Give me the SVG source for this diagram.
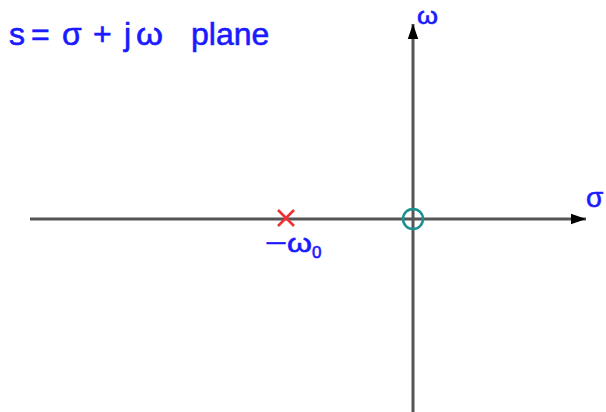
<svg xmlns="http://www.w3.org/2000/svg" width="606" height="412" viewBox="0 0 606 412">
<style>
.ax{stroke:#555;stroke-width:3;fill:none}
.lbl{font-family:"Liberation Sans",Arial,sans-serif;fill:#1a1aff;stroke:#1a1aff;stroke-width:0.6}
</style>
<defs>
<marker id="ah" viewBox="0 0 10 10" refX="10" refY="5" markerWidth="5" markerHeight="5" markerUnits="strokeWidth" orient="auto">
<path d="M0,1.5 L10,5 L0,8.5 Z" fill="#000"/>
</marker>
</defs>
<rect width="606" height="412" fill="#fff"/>
<g id="connectors">
<line class="ax" x1="30" y1="219" x2="586" y2="219" marker-end="url(#ah)"/>
<line class="ax" x1="413" y1="412" x2="413" y2="24" marker-end="url(#ah)"/>
</g>
<g id="title"><text class="lbl" y="45" font-size="32"><tspan x="9">s</tspan><tspan x="31">=</tspan><tspan x="62">σ</tspan><tspan x="93">+</tspan><tspan x="124">j</tspan><tspan x="136" textLength="27" lengthAdjust="spacingAndGlyphs">ω</tspan><tspan x="191">plane</tspan></text></g>
<g id="omega-label"><text class="lbl" x="417" y="24" font-size="24" textLength="21" lengthAdjust="spacingAndGlyphs">ω</text></g>
<g id="sigma-label"><text class="lbl" x="586" y="207" font-size="28">σ</text></g>
<g id="zero"><circle cx="413" cy="219" r="10" fill="none" stroke="#1a9090" stroke-width="2.5"/></g>
<g id="pole">
<path d="M278,210 L294,226 M294,210 L278,226" stroke="#f03030" stroke-width="2.5"/>
<text class="lbl" x="265" y="252" font-size="26"><tspan textLength="22" lengthAdjust="spacingAndGlyphs">−</tspan><tspan textLength="25" lengthAdjust="spacingAndGlyphs">ω</tspan><tspan font-size="17" dy="6">0</tspan></text>
</g>
</svg>
